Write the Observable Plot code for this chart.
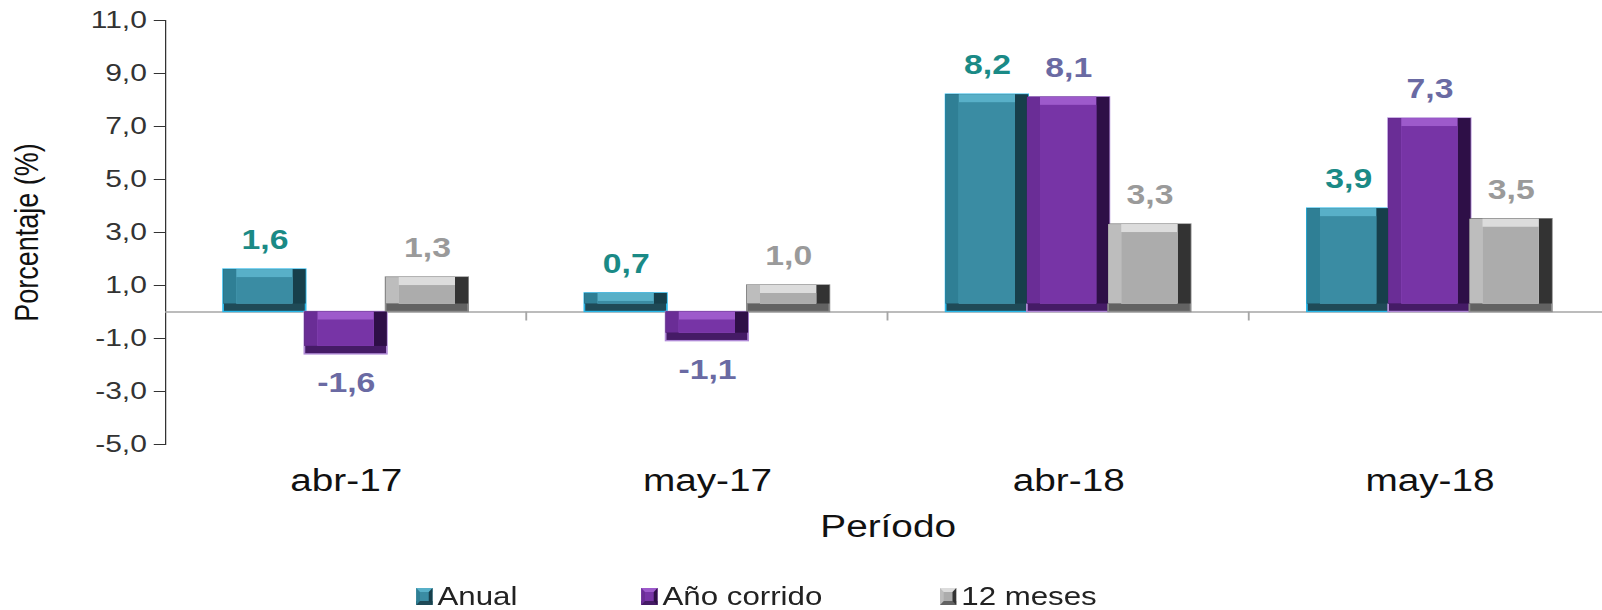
<!DOCTYPE html>
<html>
<head>
<meta charset="utf-8">
<script src="https://cdn.jsdelivr.net/npm/d3@7"></script>
<script src="https://cdn.jsdelivr.net/npm/@observablehq/plot@0.6"></script>
<style>
html, body { margin: 0; padding: 0; background: #fff; overflow: hidden; }
#wrap { position: relative; width: 1288px; transform: scaleX(1.25); transform-origin: 0 0; font-family: "Liberation Sans", Arial, sans-serif; }
#legend { position: relative; height: 40px; margin-top: 39px; font-size: 25px; line-height: 25px; color: #222; }
#legend .item { position: absolute; top: 0; display: flex; align-items: center; }
#legend .sw { display: inline-block; box-sizing: border-box; width: 13px; height: 17px; border-style: solid; border-width: 4px 3px 4px 3px; margin-right: 4px; }
</style>
</head>
<body>
<div id="wrap"></div>
<script>
// ---- data ----
const periods = ["abr-17", "may-17", "abr-18", "may-18"];
const seriesNames = ["Anual", "Año corrido", "12 meses"];
const anual = [1.6, 0.7, 8.2, 3.9];
const anoCorrido = [-1.6, -1.1, 8.1, 7.3];
const doceMeses = [1.3, 1.0, 3.3, 3.5];
const yTicks = [-5, -3, -1, 1, 3, 5, 7, 9, 11];

// ---- styling ----
const palette = {
  "Anual":       {main: "#3a8ca3", top: "#58b0c8", left: "#2f7f95", right: "#173f4b", bottom: "#1f4a57", edge: "#2ab8ea", label: "#1a8a86"},
  "Año corrido": {main: "#7734a6", top: "#9d5acb", left: "#6a2d96", right: "#2e0f47", bottom: "#451b66", edge: "#b08ad6", label: "#6a6aa3"},
  "12 meses":    {main: "#acacac", top: "#dcdcdc", left: "#bdbdbd", right: "#333333", bottom: "#626262", edge: "#8c8c8c", label: "#9a9a9a"}
};
const legendLeft = [333, 513, 752];
const fmt = v => v.toFixed(1).replace(".", ",");

const values = [anual, anoCorrido, doceMeses];
const table = periods.flatMap((p, i) => seriesNames.map((s, j) => ({period: p, serie: s, value: values[j][i]})));

const bv = 8, bh = 10;
const base = {fx: "period", x: "serie", y: "value", insetLeft: -0.5, insetRight: -0.5};
const layer = (key, extra) => Plot.barY(table, {...base, fill: d => palette[d.serie][key], ...extra});

const chart = Plot.plot({
  width: 1288,
  height: 545,
  marginLeft: 131,
  marginRight: 0,
  marginTop: 20,
  marginBottom: 101,
  style: {fontFamily: "'Liberation Sans', Arial, sans-serif", color: "#333", background: "white", overflow: "visible"},
  fx: {domain: periods, padding: 0, label: "Período", labelAnchor: "center", labelOffset: 92, tickSize: 0, tickPadding: 24, axis: "bottom"},
  x: {domain: seriesNames, paddingInner: 0, paddingOuter: 0.72, axis: null},
  y: {domain: [-5, 11], ticks: yTicks, tickFormat: fmt, tickSize: 9, tickPadding: 6, label: "Porcentaje (%)", labelAnchor: "center", labelArrow: false, labelOffset: 121, line: true},
  color: {type: "identity"},
  marks: [
    Plot.ruleY([0], {stroke: "#a6a6a6", strokeWidth: 1.3}),
    layer("bottom", {stroke: d => palette[d.serie].edge, strokeWidth: 1.4}),
    layer("right", {insetBottom: bv}),
    layer("left", {insetBottom: bv, insetRight: bh}),
    layer("top", {insetBottom: bv, insetRight: bh, insetLeft: bh}),
    layer("main", {insetBottom: bv, insetRight: bh, insetLeft: bh, insetTop: bv}),
    Plot.text(table.filter(d => d.value >= 0), {fx: "period", x: "serie", y: "value", text: d => fmt(d.value), fill: d => palette[d.serie].label, dy: -29, fontSize: 27, fontWeight: "bold"}),
    Plot.text(table.filter(d => d.value < 0), {fx: "period", x: "serie", y: "value", text: d => fmt(d.value), fill: d => palette[d.serie].label, dy: 29, fontSize: 27, fontWeight: "bold"})
  ]
});

// font sizes for axes
const svg = d3.select(chart.tagName.toLowerCase() === "svg" ? chart : chart.querySelector("svg"));
svg.selectAll('g[aria-label="y-axis tick label"]').attr("font-size", 24).attr("fill", "#333");
svg.selectAll('g[aria-label="y-axis tick"]').attr("stroke", "#333");
svg.selectAll('g[aria-label="y-axis label"]').attr("font-size", 27).attr("fill", "#111");
svg.selectAll('g[aria-label="fx-axis tick label"]').attr("font-size", 31).attr("fill", "#111");
svg.selectAll('g[aria-label="fx-axis label"]').attr("font-size", 31).attr("fill", "#111");

// category separator ticks on the zero line, placed with the plot's own scales
const fxS = chart.scale("fx");
const yS = chart.scale("y");
const y0 = yS.apply(0);
const bounds = periods.map(p => fxS.apply(p) + fxS.bandwidth);
svg.append("g").attr("stroke", "#a6a6a6").attr("stroke-width", 1.5)
  .selectAll("line").data(bounds).join("line")
  .attr("x1", d => d).attr("x2", d => d).attr("y1", y0).attr("y2", y0 + 9);

document.getElementById("wrap").appendChild(chart);

// legend
const legend = document.createElement("div");
legend.id = "legend";
seriesNames.forEach((s, i) => {
  const p = palette[s];
  const item = document.createElement("div");
  item.className = "item";
  item.style.left = legendLeft[i] + "px";
  const sw = document.createElement("span");
  sw.className = "sw";
  sw.style.background = p.main;
  sw.style.borderColor = `${p.top} ${p.right} ${p.bottom} ${p.left}`;
  item.appendChild(sw);
  item.appendChild(document.createTextNode(s));
  legend.appendChild(item);
});
document.getElementById("wrap").appendChild(legend);
</script>
</body>
</html>
